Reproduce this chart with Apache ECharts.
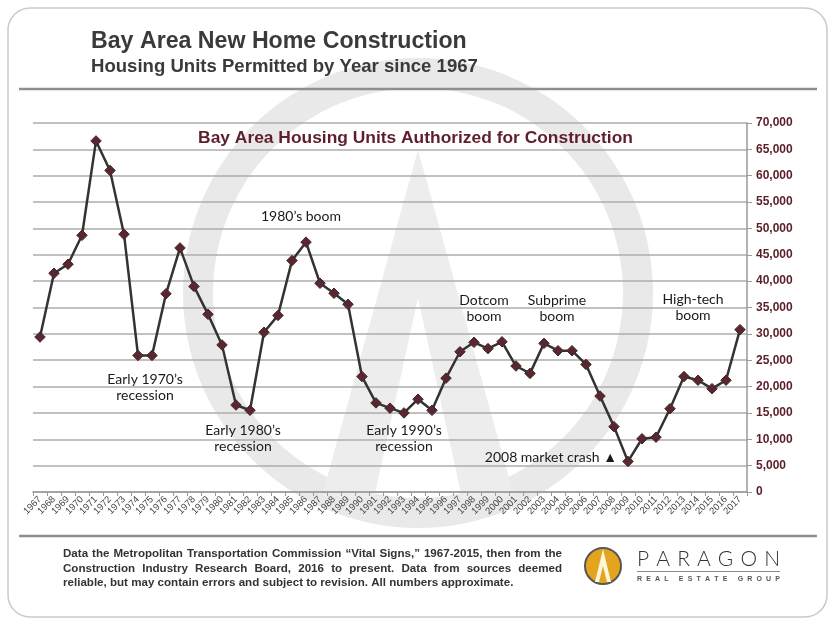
<!DOCTYPE html>
<html>
<head>
<meta charset="utf-8">
<script src="https://cdn.jsdelivr.net/npm/echarts@6/dist/echarts.min.js"></script>
<style>
html,body{margin:0;padding:0;background:#fff;}
#chart{width:835px;height:625px;}
</style>
</head>
<body>
<div id="chart"></div>
<script>
// ---- data ----
const years = ['1967','1968','1969','1970','1971','1972','1973','1974','1975','1976','1977','1978','1979','1980','1981','1982','1983','1984','1985','1986','1987','1988','1989','1990','1991','1992','1993','1994','1995','1996','1997','1998','1999','2000','2001','2002','2003','2004','2005','2006','2007','2008','2009','2010','2011','2012','2013','2014','2015','2016','2017'];
const units = [29400,41500,43200,48700,66600,61000,48900,25900,25900,37600,46300,39000,33700,27900,16500,15500,30300,33500,43900,47400,39600,37700,35600,21900,16900,15900,15000,17600,15500,21600,26600,28400,27200,28500,23900,22500,28200,26800,26800,24200,18200,12400,5800,10100,10400,15800,21900,21200,19600,21200,30800];
const yTicks = {min:0, max:70000, step:5000};

const mainTitle = 'Bay Area New Home Construction';
const subTitle = 'Housing Units Permitted by Year since 1967';
const chartTitle = 'Bay Area Housing Units Authorized for Construction';
const annotations = [
  {lines:['1980\u2019s boom'], x:301, y:216, align:'center'},
  {lines:['Early 1970\u2019s','recession'], x:145, y:379, align:'center'},
  {lines:['Early 1980\u2019s','recession'], x:243, y:430, align:'center'},
  {lines:['Early 1990\u2019s','recession'], x:404, y:430, align:'center'},
  {lines:['Dotcom','boom'], x:484, y:300, align:'center'},
  {lines:['Subprime','boom'], x:557, y:300, align:'center'},
  {lines:['High-tech','boom'], x:693, y:299, align:'center'},
  {lines:['2008 market crash \u25B2'], x:617, y:457, align:'right'}
];
const footerLines = [
  'Data the Metropolitan Transportation Commission \u201CVital Signs,\u201D 1967-2015, then from the',
  'Construction Industry Research Board, 2016 to present. Data from sources deemed',
  'reliable, but may contain errors and subject to revision. All numbers approximate.'
];

// ---- helpers ----
const SANS = 'Arial, "Liberation Sans", Helvetica, sans-serif';
const mctx = document.createElement('canvas').getContext('2d');
function measure(text, weight, size, family){ mctx.font = weight+' '+size+'px '+family; return mctx.measureText(text).width; }
function fitSize(text, weight, family, target){ const w = measure(text, weight, 20, family); return 20*target/w; }

const graphics = [];
// outer frame
graphics.push({type:'rect', z:-20, shape:{x:8,y:8,width:819,height:609,r:22}, style:{fill:'#fff', stroke:'#cacaca', lineWidth:1.5}});
// watermark
graphics.push({type:'ring', z:-10, shape:{cx:418, cy:293, r:235, r0:205}, style:{fill:'#e9e9e9'}});
graphics.push({type:'polygon', z:-10, shape:{points:[[418,150],[514,496],[462,498],[418,298],[374,498],[322,496]]}, style:{fill:'#ededed'}});
// separators
graphics.push({type:'line', z:5, shape:{x1:19,y1:89,x2:817,y2:89}, style:{stroke:'#8e8e8e', lineWidth:2.5}});
graphics.push({type:'line', z:5, shape:{x1:19,y1:536,x2:817,y2:536}, style:{stroke:'#8e8e8e', lineWidth:2.5}});
// titles
const tSize = fitSize(mainTitle,'bold',SANS,376);
graphics.push({type:'text', z:5, x:91, y:42, style:{text:mainTitle, fill:'#3a3a3a', font:'bold '+tSize.toFixed(2)+'px '+SANS, textAlign:'left', textVerticalAlign:'middle'}});
const sSize = fitSize(subTitle,'bold',SANS,387);
graphics.push({type:'text', z:5, x:91, y:67, style:{text:subTitle, fill:'#3a3a3a', font:'bold '+sSize.toFixed(2)+'px '+SANS, textAlign:'left', textVerticalAlign:'middle'}});
const cSize = fitSize(chartTitle,'bold',SANS,435);
graphics.push({type:'text', z:5, x:415.5, y:138, style:{text:chartTitle, fill:'#5e1f2b', font:'bold '+cSize.toFixed(2)+'px '+SANS, textAlign:'center', textVerticalAlign:'middle'}});
// annotations
const AFONT = 'Lato, "Open Sans", sans-serif';
annotations.forEach(a=>{
  a.lines.forEach((ln,i)=>{
    graphics.push({type:'text', z:6, x:a.x, y:a.y+i*16, style:{text:ln, fill:'#1a1a1a', font:'14px '+AFONT, textAlign:a.align, textVerticalAlign:'middle'}});
  });
});
// footer (justified)
const fSize = fitSize(footerLines[2],'bold',SANS,451);
const fFont = 'bold '+fSize.toFixed(2)+'px '+SANS;
const fLeft = 63, fRight = 562, fY = [554,568.5,583];
footerLines.forEach((ln,i)=>{
  if(i===2){
    graphics.push({type:'text', z:5, x:fLeft, y:fY[i], style:{text:ln, fill:'#333', font:fFont, textAlign:'left', textVerticalAlign:'middle'}});
    return;
  }
  const words = ln.split(' ');
  const ws = words.map(w=>measure(w,'bold',fSize,SANS));
  const gap = (fRight-fLeft-ws.reduce((a,b)=>a+b,0))/(words.length-1);
  let x = fLeft;
  words.forEach((w,k)=>{
    graphics.push({type:'text', z:5, x:x, y:fY[i], style:{text:w, fill:'#333', font:fFont, textAlign:'left', textVerticalAlign:'middle'}});
    x += ws[k]+gap;
  });
});
// logo
graphics.push({type:'circle', z:5, shape:{cx:603, cy:566, r:18}, style:{fill:'#e4a51e', stroke:'#575757', lineWidth:2}});
graphics.push({type:'polygon', z:6, shape:{points:[[603,549],[595,582],[599,582],[603,566],[607,582],[611,582]]}, style:{fill:'#fff6dc'}});
function spaced(text, x0, x1, y, weight, size, family, color){
  const chars = text.split('');
  const ws = chars.map(c=>measure(c,weight,size,family));
  const gap = (x1-x0-ws.reduce((a,b)=>a+b,0))/(chars.length-1);
  let x = x0;
  chars.forEach((c,k)=>{
    if(c!==' ') graphics.push({type:'text', z:6, x:x, y:y, style:{text:c, fill:color, font:weight+' '+size+'px '+family, textAlign:'left', textVerticalAlign:'middle'}});
    x += ws[k]+gap;
  });
}
spaced('PARAGON', 637, 780, 559, '300', 21, 'Lato, sans-serif', '#333');
graphics.push({type:'line', z:5, shape:{x1:637,y1:571.5,x2:780,y2:571.5}, style:{stroke:'#8a8a8a', lineWidth:1}});
spaced('REAL ESTATE GROUP', 637, 780, 579.5, 'bold', 7, SANS, '#555');

const chart = echarts.init(document.getElementById('chart'), null, {renderer:'canvas'});
chart.setOption({
  animation:false,
  backgroundColor:'#ffffff',
  grid:{left:33, right:88, top:123, bottom:133, containLabel:false},
  xAxis:{
    type:'category', data:years, boundaryGap:true,
    axisLine:{show:true, lineStyle:{color:'#9a9a9a', width:1.5}},
    axisTick:{show:true, length:4, alignWithLabel:false, interval:0, lineStyle:{color:'#9a9a9a'}},
    axisLabel:{rotate:45, interval:0, fontSize:9.5, color:'#444', fontFamily:SANS, margin:6},
    splitLine:{show:false}
  },
  yAxis:{
    type:'value', position:'right', min:yTicks.min, max:yTicks.max, interval:yTicks.step,
    axisLine:{show:true, lineStyle:{color:'#9a9a9a', width:1.5}},
    axisTick:{show:true, length:5, lineStyle:{color:'#9a9a9a'}},
    axisLabel:{color:'#5a1e28', fontWeight:'bold', fontSize:12, fontFamily:SANS, margin:9,
      formatter:v=>v.toLocaleString('en-US')},
    splitLine:{show:true, lineStyle:{color:'#adadad', width:1.5}}
  },
  series:[{
    type:'line', data:units, symbol:'diamond', symbolSize:10.5, z:10,
    lineStyle:{color:'#333333', width:2.5},
    itemStyle:{color:'#5b2630', borderColor:'#3a2c2c', borderWidth:1}
  }],
  graphic:{elements:graphics}
});
</script>
</body>
</html>
